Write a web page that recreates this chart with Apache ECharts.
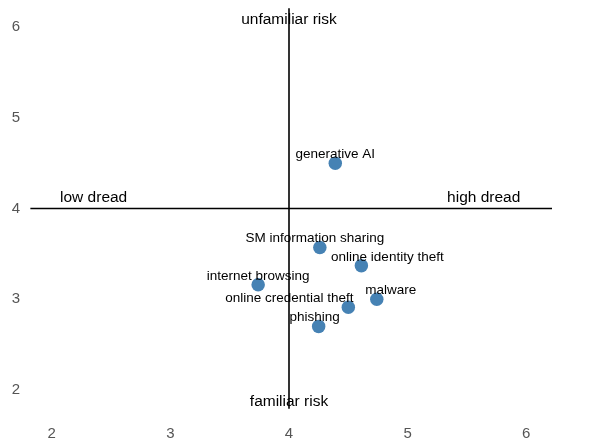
<!DOCTYPE html>
<html><head><meta charset="utf-8">
<script src="https://cdn.jsdelivr.net/npm/echarts@6/dist/echarts.min.js"></script>
<style>html,body{margin:0;padding:0;background:#fff}#c{width:605px;height:445px}</style>
</head><body><div id="c"></div>
<script>
const names = ["generative AI","SM information sharing","online identity theft","internet browsing","malware","online credential theft","phishing"];
const dread = [4.39, 4.26, 4.61, 3.74, 4.74, 4.50, 4.25];
const unfamiliarity = [4.50, 3.57, 3.37, 3.16, 3.00, 2.91, 2.70];
const xTicks = [2,3,4,5,6];
const yTicks = [2,3,4,5,6];
const quadrantText = ["low dread","high dread","unfamiliar risk","familiar risk"];

// label placement offsets (styling only)
const labelOffsets = [[0,5],[-5,5],[26,5],[0,5],[14,5],[-59,5],[-4,5]];

const chart = echarts.init(document.getElementById('c'));
const font = "'Liberation Sans', Arial, sans-serif";
const pts = names.map((n,i)=>({
  name:n, value:[dread[i], unfamiliarity[i]],
  label:{offset: labelOffsets[i]}
}));
chart.setOption({
  animation:false,
  grid:{left:28, right:55, top:9, bottom:37},
  xAxis:{type:'value', min:1.8, max:6.2,
    axisLine:{show:false}, axisTick:{show:false}, splitLine:{show:false},
    axisLabel:{customValues:xTicks, color:'#555', fontSize:15, fontFamily:font, margin:18}},
  yAxis:{type:'value', min:1.8, max:6.2,
    axisLine:{show:false}, axisTick:{show:false}, splitLine:{show:false},
    axisLabel:{customValues:yTicks, color:'#555', fontSize:15, fontFamily:font, margin:8}},
  series:[
    {type:'line', data:[[1.82,4],[6.22,4]], symbol:'none', silent:true,
      lineStyle:{color:'#000', width:1.6}, z:1},
    {type:'line', data:[[4,1.76],[4,6.21]], symbol:'none', silent:true,
      lineStyle:{color:'#000', width:1.6}, z:1},
    {type:'scatter', data:pts, symbolSize:13.5, itemStyle:{color:'#4682b4', opacity:1}, z:3,
      label:{show:true, position:'top', distance:0, formatter:'{b}', color:'#000', fontSize:13.5, fontFamily:font}},
    {type:'scatter', symbolSize:0, silent:true, z:4, itemStyle:{opacity:1, color:'#000'},
      data:[
        {value:[2.07,4.0], name:quadrantText[0], label:{align:'left', offset:[0,-3]}},
        {value:[5.95,4.0], name:quadrantText[1], label:{align:'right', offset:[0,-3]}},
        {value:[4,6.2], name:quadrantText[2], label:{align:'center', offset:[0,19]}},
        {value:[4,1.8], name:quadrantText[3], label:{align:'center', offset:[0,2]}}
      ],
      label:{show:true, position:'top', distance:0, formatter:'{b}', color:'#000', opacity:1, textBorderWidth:0, fontSize:15.5, fontFamily:font}}
  ]
});
</script></body></html>
